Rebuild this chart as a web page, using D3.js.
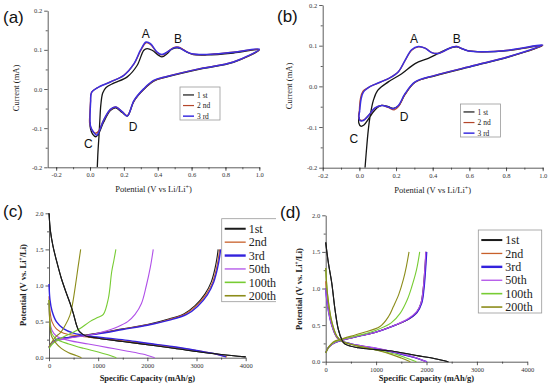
<!DOCTYPE html>
<html lang="en">
<head>
  <meta charset="UTF-8">
  <title>CV and charge/discharge profiles</title>
  <script src="https://d3js.org/d3.v7.min.js"></script>
  <style>
    body { margin: 0; background: #fff; }
    svg { display: block; }
    .tick text { font-family: "Liberation Serif", serif; font-size: 6.5px; fill: #333; }
    .domain, .tick line { stroke: #333; stroke-width: 0.8px; }
    .title { font-family: "Liberation Serif", serif; font-size: 8.5px; fill: #222; }
    .bold { font-weight: bold; }
    .panel-label { font-family: "Liberation Sans", Arial, sans-serif; font-size: 17px; fill: #111; }
    .peak { font-family: "Liberation Sans", Arial, sans-serif; font-size: 12px; fill: #111; }
    .leg-box { fill: #fff; stroke: #999; stroke-width: 0.8px; }
  </style>
</head>
<body>
<svg id="fig" width="550" height="392"></svg>
<script>
// ---- data: cyclic voltammograms, [potential V, current mA] ----
const cvSeries = ['1 st', '2 nd', '3 rd'];
const cvColors = ['#151515', '#b4462a', '#3b2fe0'];

const cvA1 = [[0.043,-0.2],[0.047,-0.16],[0.053,-0.12],[0.058,-0.08],[0.064,-0.04],[0.075,-0.01],[0.095,0.004],[0.14,0.015],[0.22,0.031],[0.278,0.06],[0.318,0.099],[0.337,0.103],[0.367,0.099],[0.406,0.086],[0.425,0.082],[0.455,0.09],[0.484,0.102],[0.533,0.104],[0.573,0.094],[0.61,0.088],[0.69,0.087],[0.847,0.092],[1.0,0.1],
  [0.847,0.068],[0.65,0.051],[0.455,0.031],[0.376,0.02],[0.318,-0.001],[0.26,-0.031],[0.22,-0.069],[0.19,-0.06],[0.151,-0.048],[0.12,-0.055],[0.08,-0.085],[0.05,-0.115],[0.035,-0.122],[0.015,-0.115],[0.002,-0.1],[0.0,-0.085]];
const cvA2 = [[0.003,-0.03],[0.01,-0.008],[0.043,0.003],[0.12,0.018],[0.2,0.035],[0.26,0.064],[0.298,0.097],[0.331,0.118],[0.357,0.114],[0.396,0.093],[0.425,0.087],[0.455,0.094],[0.494,0.106],[0.524,0.107],[0.553,0.1],[0.6,0.09],[0.69,0.088],[0.847,0.094],[1.0,0.101],
  [0.847,0.069],[0.65,0.052],[0.455,0.032],[0.376,0.021],[0.318,0.0],[0.26,-0.03],[0.22,-0.068],[0.19,-0.058],[0.151,-0.046],[0.12,-0.053],[0.08,-0.08],[0.05,-0.108],[0.032,-0.113],[0.012,-0.105],[-0.002,-0.088],[-0.002,-0.07],[0.003,-0.03]];
const cvA3 = [[0.004,-0.03],[0.01,-0.008],[0.043,0.003],[0.12,0.018],[0.2,0.035],[0.26,0.065],[0.298,0.099],[0.331,0.12],[0.357,0.116],[0.396,0.094],[0.425,0.088],[0.455,0.094],[0.494,0.105],[0.524,0.106],[0.553,0.099],[0.6,0.09],[0.69,0.088],[0.847,0.094],[1.0,0.102],
  [0.847,0.069],[0.65,0.052],[0.455,0.032],[0.376,0.022],[0.318,0.001],[0.26,-0.029],[0.22,-0.069],[0.19,-0.058],[0.151,-0.046],[0.12,-0.052],[0.08,-0.08],[0.05,-0.112],[0.04,-0.118],[0.02,-0.11],[0.003,-0.095],[0.0,-0.075],[0.004,-0.03]];

const cvB1 = [[0.031,-0.2],[0.038,-0.16],[0.048,-0.11],[0.058,-0.075],[0.076,-0.035],[0.1,-0.01],[0.158,0.011],[0.231,0.031],[0.304,0.056],[0.376,0.069],[0.431,0.081],[0.485,0.093],[0.531,0.097],[0.558,0.093],[0.595,0.087],[0.667,0.085],[0.813,0.088],[1.0,0.1],
  [0.813,0.072],[0.631,0.051],[0.413,0.026],[0.304,0.01],[0.249,-0.02],[0.213,-0.048],[0.185,-0.054],[0.158,-0.05],[0.122,-0.047],[0.085,-0.058],[0.05,-0.08],[0.025,-0.095],[0.008,-0.098],[-0.003,-0.09],[-0.002,-0.075]];
const cvB2 = [[0.0,-0.06],[0.006,-0.03],[0.02,-0.012],[0.049,-0.003],[0.085,0.005],[0.158,0.019],[0.213,0.036],[0.249,0.063],[0.285,0.089],[0.322,0.097],[0.358,0.094],[0.395,0.083],[0.431,0.081],[0.467,0.088],[0.504,0.096],[0.531,0.098],[0.558,0.093],[0.595,0.087],[0.667,0.085],[0.813,0.089],[1.0,0.101],
  [0.813,0.073],[0.631,0.052],[0.413,0.027],[0.304,0.01],[0.249,-0.02],[0.213,-0.05],[0.19,-0.058],[0.158,-0.052],[0.122,-0.047],[0.085,-0.054],[0.049,-0.072],[0.022,-0.083],[0.004,-0.083],[-0.004,-0.075],[0.0,-0.06]];
const cvB3 = [[0.002,-0.06],[0.01,-0.03],[0.022,-0.014],[0.049,-0.003],[0.085,0.005],[0.158,0.019],[0.213,0.036],[0.249,0.064],[0.285,0.09],[0.322,0.098],[0.358,0.094],[0.395,0.083],[0.431,0.081],[0.467,0.088],[0.504,0.096],[0.531,0.098],[0.558,0.093],[0.595,0.087],[0.667,0.085],[0.813,0.089],[1.0,0.102],
  [0.813,0.073],[0.631,0.052],[0.413,0.027],[0.304,0.011],[0.249,-0.018],[0.213,-0.047],[0.185,-0.055],[0.158,-0.051],[0.122,-0.047],[0.085,-0.053],[0.049,-0.072],[0.022,-0.084],[0.004,-0.084],[-0.002,-0.075],[0.002,-0.06]];

const cvPeaksA = [['A',0.33,0.13],['B',0.52,0.117],['C',-0.01,-0.151],['D',0.255,-0.107]];
const cvPeaksB = [['A',0.298,0.107],['B',0.531,0.107],['C',-0.03,-0.14],['D',0.244,-0.086]];

// ---- data: galvanostatic profiles, [capacity mAh/g, potential V] ----
const gcdSeries = ['1st', '2nd', '3rd', '50th', '100th', '200th'];
const gcdColors = ['#1a1a1a', '#c8602a', '#3322dd', '#b050e8', '#77cc33', '#8c8c1a'];

const gcdC = [
  { dis: [[0,2.0],[30,1.75],[80,1.55],[150,1.35],[250,1.1],[350,0.9],[430,0.75],[500,0.6],[560,0.45],[620,0.36],[750,0.3],[1000,0.27],[1500,0.225],[2000,0.18],[2500,0.135],[3000,0.085],[3500,0.045],[4000,0.012]],
    cha: [[0,0.14],[50,0.2],[150,0.25],[400,0.28],[1000,0.34],[1500,0.4],[2000,0.46],[2450,0.54],[2750,0.61],[2970,0.72],[3170,0.88],[3300,1.05],[3380,1.25],[3420,1.4],[3440,1.5]] },
  { dis: [[0,0.85],[20,0.65],[60,0.5],[150,0.4],[300,0.34],[600,0.3],[1000,0.27],[1500,0.235],[2000,0.195],[2500,0.15],[3000,0.1],[3400,0.05],[3620,0.01]],
    cha: [[0,0.14],[50,0.2],[150,0.25],[400,0.28],[1000,0.335],[1500,0.395],[2000,0.455],[2450,0.53],[2780,0.61],[3000,0.72],[3200,0.88],[3330,1.05],[3410,1.25],[3450,1.4],[3470,1.5]] },
  { dis: [[0,1.02],[20,0.8],[60,0.65],[150,0.5],[300,0.4],[500,0.34],[800,0.3],[1200,0.27],[1600,0.24],[2000,0.2],[2500,0.155],[3000,0.1],[3400,0.05],[3600,0.012]],
    cha: [[0,0.14],[50,0.2],[150,0.25],[400,0.28],[1000,0.33],[1500,0.39],[2000,0.45],[2450,0.52],[2800,0.6],[3020,0.71],[3220,0.87],[3350,1.05],[3430,1.25],[3470,1.4],[3490,1.5]] },
  { dis: [[0,0.75],[20,0.5],[60,0.38],[150,0.3],[400,0.24],[800,0.19],[1200,0.14],[1600,0.09],[1900,0.05],[2150,0.0]],
    cha: [[0,0.15],[100,0.22],[400,0.27],[800,0.31],[1100,0.36],[1400,0.43],[1600,0.5],[1750,0.6],[1880,0.75],[1980,1.0],[2060,1.25],[2120,1.5]] },
  { dis: [[0,0.8],[20,0.5],[60,0.33],[150,0.26],[400,0.19],[700,0.13],[1000,0.08],[1200,0.04],[1370,0.0]],
    cha: [[0,0.13],[100,0.21],[300,0.29],[600,0.39],[830,0.5],[1000,0.56],[1105,0.6],[1207,0.82],[1275,1.19],[1320,1.35],[1360,1.5]] },
  { dis: [[0,0.8],[20,0.45],[50,0.3],[120,0.22],[250,0.13],[400,0.07],[550,0.03],[660,0.0]],
    cha: [[0,0.15],[60,0.22],[150,0.3],[224,0.34],[330,0.45],[427,0.59],[480,0.75],[529,0.96],[590,1.25],[644,1.5]] }
];

const gcdD = [
  { dis: [[0,1.63],[53,1.35],[119,1.08],[185,0.71],[251,0.44],[320,0.3],[384,0.24],[648,0.19],[1000,0.165],[1310,0.146],[1772,0.087],[2170,0.041],[2434,0.0]],
    cha: [[0,0.12],[60,0.2],[150,0.25],[300,0.29],[600,0.34],[979,0.4],[1310,0.48],[1640,0.58],[1800,0.67],[1890,0.8],[1935,1.0],[1965,1.25],[1990,1.5]] },
  { dis: [[0,1.1],[40,0.8],[120,0.5],[220,0.33],[320,0.28],[600,0.23],[1000,0.18],[1400,0.12],[1750,0.06],[1990,0.0]],
    cha: [[0,0.12],[60,0.2],[150,0.25],[300,0.29],[600,0.34],[979,0.4],[1310,0.48],[1640,0.58],[1810,0.67],[1900,0.8],[1945,1.0],[1975,1.25],[1995,1.5]] },
  { dis: [[0,1.0],[40,0.75],[120,0.5],[220,0.34],[320,0.28],[600,0.23],[1000,0.18],[1400,0.12],[1750,0.06],[2004,0.0]],
    cha: [[0,0.12],[60,0.2],[150,0.25],[300,0.29],[600,0.34],[979,0.4],[1310,0.48],[1640,0.58],[1810,0.67],[1905,0.8],[1950,1.0],[1980,1.25],[2004,1.5]] },
  { dis: [[0,1.0],[40,0.75],[120,0.5],[220,0.34],[320,0.28],[600,0.23],[1000,0.185],[1400,0.125],[1750,0.065],[2000,0.0]],
    cha: [[0,0.12],[60,0.2],[150,0.25],[300,0.29],[600,0.34],[979,0.4],[1310,0.48],[1640,0.59],[1800,0.68],[1890,0.8],[1935,1.0],[1965,1.25],[1985,1.5]] },
  { dis: [[0,1.28],[40,0.9],[120,0.55],[220,0.35],[320,0.28],[600,0.22],[1000,0.16],[1400,0.1],[1600,0.05],[1800,0.0]],
    cha: [[0,0.12],[60,0.2],[150,0.26],[300,0.3],[600,0.35],[1000,0.43],[1300,0.53],[1476,0.66],[1620,0.85],[1706,1.02],[1800,1.25],[1865,1.5]] },
  { dis: [[0,1.28],[40,0.9],[120,0.55],[220,0.35],[320,0.28],[600,0.22],[1000,0.16],[1300,0.1],[1500,0.05],[1680,0.0]],
    cha: [[0,0.12],[60,0.2],[150,0.27],[317,0.31],[700,0.39],[1077,0.48],[1250,0.62],[1341,0.75],[1450,0.92],[1540,1.12],[1600,1.3],[1653,1.5]] }
];

const cvXTicks = [-0.2, 0.0, 0.2, 0.4, 0.6, 0.8, 1.0];
const cvYTicks = [-0.2, -0.1, 0.0, 0.1, 0.2];
const gcdXTicks = [0, 1000, 2000, 3000, 4000];
const gcdYTicks = [0.0, 0.5, 1.0, 1.5, 2.0];

const svg = d3.select('#fig');
const fmt1 = d => d3.format('.1f')(d).replace('\u2212', '-');

function axes(g, x, y, xTicks, yTicks, xMinor, yMinor, xFmt, yFmt) {
  const [x0] = x.range(), [y0] = y.range();
  g.append('g').attr('transform', `translate(0,${y0})`)
    .call(d3.axisBottom(x).tickValues(xMinor).tickSize(2).tickFormat(''))
    .select('.domain').remove();
  g.append('g').attr('transform', `translate(0,${y0})`)
    .call(d3.axisBottom(x).tickValues(xTicks).tickSize(3.5).tickSizeOuter(0).tickPadding(2).tickFormat(xFmt));
  g.append('g').attr('transform', `translate(${x0},0)`)
    .call(d3.axisLeft(y).tickValues(yMinor).tickSize(2).tickFormat(''))
    .select('.domain').remove();
  g.append('g').attr('transform', `translate(${x0},0)`)
    .call(d3.axisLeft(y).tickValues(yTicks).tickSize(3.5).tickSizeOuter(0).tickPadding(2).tickFormat(yFmt));
}

function legend(g, x, y, w, h, names, colors, rowH, lineW, fs, widths) {
  g.append('rect').attr('class', 'leg-box').attr('x', x).attr('y', y).attr('width', w).attr('height', h);
  names.forEach((n, i) => {
    const cy = y + rowH * (i + 0.75);
    g.append('line').attr('x1', x + 3).attr('x2', x + 3 + lineW).attr('y1', cy).attr('y2', cy)
      .attr('stroke', colors[i]).attr('stroke-width', widths[i]);
    g.append('text').attr('x', x + 6 + lineW).attr('y', cy).attr('dy', '0.35em')
      .attr('font-family', 'Liberation Serif, serif').attr('font-size', fs).attr('fill', '#222').text(n);
  });
}

const line = (x, y) => d3.line().x(d => x(d[0])).y(d => y(d[1])).curve(d3.curveCatmullRom.alpha(0.5));

function cvPanel(cfg) {
  const g = svg.append('g');
  const x = d3.scaleLinear().domain(cfg.xd).range(cfg.xr);
  const y = d3.scaleLinear().domain([-0.2, 0.2]).range(cfg.yr);
  axes(g, x, y, cvXTicks, cvYTicks, d3.range(-0.2, 1.01, 0.1), d3.range(-0.15, 0.2, 0.1), fmt1, fmt1);
  const clip = 'clip' + cfg.label;
  g.append('clipPath').attr('id', clip).append('rect')
    .attr('x', cfg.xr[0]).attr('y', cfg.yr[1]).attr('width', cfg.xr[1] - cfg.xr[0] + 5).attr('height', cfg.yr[0] - cfg.yr[1]);
  cfg.data.forEach((d, i) => {
    g.append('path').datum(d).attr('clip-path', `url(#${clip})`)
      .attr('fill', 'none').attr('stroke', cvColors[i]).attr('stroke-width', i === 2 ? 1.5 : 1.3)
      .attr('d', line(x, y));
  });
  cfg.peaks.forEach(p => g.append('text').attr('class', 'peak').attr('text-anchor', 'middle')
    .attr('x', x(p[1])).attr('y', y(p[2])).text(p[0]));
  legend(g, cfg.leg[0], cfg.leg[1], 40, 33, cvSeries, cvColors, 10.6, 11, 7.5, [1.2, 1.2, 1.5]);
  const xm = (cfg.xr[0] + cfg.xr[1]) / 2;
  g.append('text').attr('class', 'title').attr('text-anchor', 'middle').attr('x', xm).attr('y', cfg.xt)
    .html('Potential (V vs Li/Li<tspan baseline-shift="super" font-size="6">+</tspan>)');
  g.append('text').attr('class', 'title').attr('text-anchor', 'middle')
    .attr('transform', `translate(${cfg.yt[0]},${cfg.yt[1]}) rotate(-90)`).text('Current (mA)');
  g.append('text').attr('class', 'panel-label').attr('x', cfg.lab[0]).attr('y', cfg.lab[1]).text(`(${cfg.label})`);
}

function gcdPanel(cfg) {
  const g = svg.append('g');
  if (cfg.clipW) {
    g.append('clipPath').attr('id', 'pc' + cfg.label).append('rect').attr('x', 0).attr('y', 196).attr('width', cfg.clipW).attr('height', 196);
    g.attr('clip-path', `url(#pc${cfg.label})`);
  }
  const x = d3.scaleLinear().domain([0, 4000]).range(cfg.xr);
  const y = d3.scaleLinear().domain([0, 2]).range(cfg.yr);
  axes(g, x, y, gcdXTicks, gcdYTicks, d3.range(500, 4000, 1000), d3.range(0.25, 2, 0.5), d3.format('d'), d => d.toFixed(1));
  cfg.data.forEach((s, i) => {
    [s.dis, s.cha].forEach(d => g.append('path').datum(d)
      .attr('fill', 'none').attr('stroke', gcdColors[i]).attr('stroke-width', i === 2 ? 1.4 : 1.1)
      .attr('d', line(x, y)));
  });
  // redraw the first cycle so it stays visible where curves overlap
  [cfg.data[0].dis].forEach(d => g.append('path').datum(d)
    .attr('fill', 'none').attr('stroke', gcdColors[0]).attr('stroke-width', 1.1).attr('d', line(x, y)));
  legend(g, cfg.leg[0], cfg.leg[1], cfg.leg[2], 83, gcdSeries, gcdColors, 13.4, 21, 12, [2, 1.3, 2.4, 1.3, 1.6, 1.6]);
  const xm = (cfg.xr[0] + cfg.xr[1]) / 2;
  g.append('text').attr('class', 'title bold').attr('text-anchor', 'middle').attr('x', xm).attr('y', cfg.xt)
    .text('Specific Capacity (mAh/g)');
  g.append('text').attr('class', 'title bold').attr('text-anchor', 'middle')
    .attr('transform', `translate(${cfg.yt[0]},${cfg.yt[1]}) rotate(-90)`)
    .html('Potential (V vs. Li<tspan baseline-shift="super" font-size="5.5">+</tspan>/Li)');
  g.append('text').attr('class', 'panel-label').attr('x', cfg.lab[0]).attr('y', cfg.lab[1]).text(`(${cfg.label})`);
}

cvPanel({ label: 'a', xd: [-0.25, 1.0], xr: [47.7, 259.3], yr: [167.3, 10.7], data: [cvA1, cvA2, cvA3],
  peaks: cvPeaksA, leg: [180, 87], xt: 192, yt: [19, 88], lab: [3, 23] });
cvPanel({ label: 'b', xd: [-0.2, 1.0], xr: [322.7, 542.7], yr: [167.7, 5], data: [cvB1, cvB2, cvB3],
  peaks: cvPeaksB, leg: [460.5, 104], xt: 193, yt: [292, 86], lab: [277, 22] });
gcdPanel({ label: 'c', xr: [49, 245.7], yr: [357.7, 213.3], data: gcdC, leg: [221.7, 218.7, 56],
  xt: 381, yt: [26, 285], lab: [3, 217], clipW: 276 });
gcdPanel({ label: 'd', xr: [325.7, 527.3], yr: [361.7, 215.3], data: gcdD, leg: [478.3, 230, 63.4],
  xt: 381, yt: [302, 289], lab: [280, 218] });
</script>
</body>
</html>
